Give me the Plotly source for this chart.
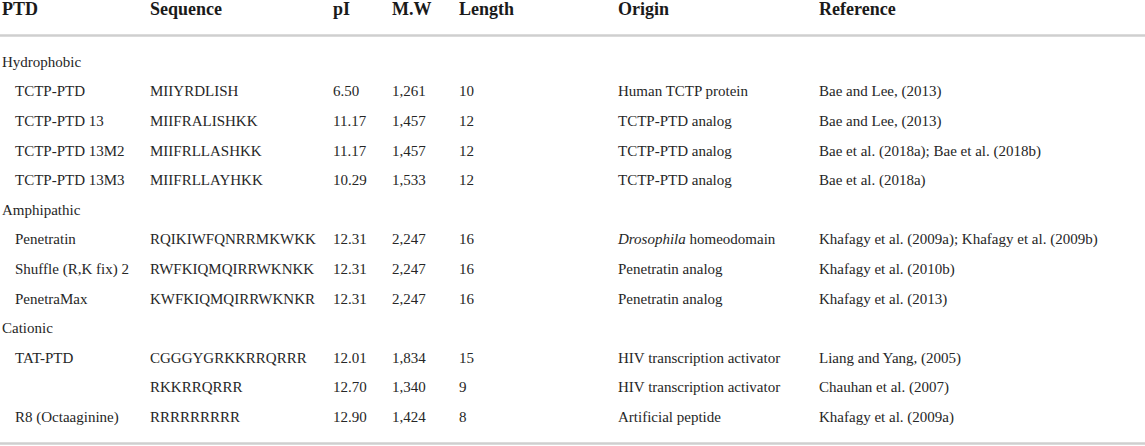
import plotly.graph_objects as go

headers = ["PTD", "Sequence", "pI", "M.W", "Length", "Origin", "Reference"]

groups = ["Hydrophobic", "Amphipathic", "Cationic"]
group_rows = [0, 5, 9]

ptd = ["TCTP-PTD", "TCTP-PTD 13", "TCTP-PTD 13M2", "TCTP-PTD 13M3",
       "Penetratin", "Shuffle (R,K fix) 2", "PenetraMax",
       "TAT-PTD", "", "R8 (Octaaginine)"]
sequence = ["MIIYRDLISH", "MIIFRALISHKK", "MIIFRLLASHKK", "MIIFRLLAYHKK",
            "RQIKIWFQNRRMKWKK", "RWFKIQMQIRRWKNKK", "KWFKIQMQIRRWKNKR",
            "CGGGYGRKKRRQRRR", "RKKRRQRRR", "RRRRRRRRR"]
pI = [6.50, 11.17, 11.17, 10.29, 12.31, 12.31, 12.31, 12.01, 12.70, 12.90]
mw = [1261, 1457, 1457, 1533, 2247, 2247, 2247, 1834, 1340, 1424]
length = [10, 12, 12, 12, 16, 16, 16, 15, 9, 8]
origin = ["Human TCTP protein", "TCTP-PTD analog", "TCTP-PTD analog", "TCTP-PTD analog",
          "<i>Drosophila</i> homeodomain", "Penetratin analog", "Penetratin analog",
          "HIV transcription activator", "HIV transcription activator", "Artificial peptide"]
reference = ["Bae and Lee, (2013)", "Bae and Lee, (2013)",
             "Bae et al. (2018a); Bae et al. (2018b)", "Bae et al. (2018a)",
             "Khafagy et al. (2009a); Khafagy et al. (2009b)", "Khafagy et al. (2010b)",
             "Khafagy et al. (2013)", "Liang and Yang, (2005)", "Chauhan et al. (2007)",
             "Khafagy et al. (2009a)"]
item_rows = [1, 2, 3, 4, 6, 7, 8, 10, 11, 12]

# layout (pixel positions)
W, H = 1145, 446
col_x = [2, 150, 333, 392, 459, 618, 819]
indent_x = 15
row0_px, row_h = 63, 29.6
header_px = 10

def px_to_row(p):
    return (p - row0_px) / row_h

body_font = dict(family="Liberation Serif, Times New Roman, serif", size=15, color="#262626")
head_font = dict(family="Liberation Serif, Times New Roman, serif", size=18, color="#1a1a1a")

fig = go.Figure()

# header
fig.add_trace(go.Scatter(
    x=col_x, y=[px_to_row(header_px)] * len(headers),
    text=["<b>%s</b>" % h for h in headers],
    mode="text", textposition="middle right", textfont=head_font,
    hoverinfo="skip", showlegend=False))

# group labels
fig.add_trace(go.Scatter(
    x=[col_x[0]] * len(groups), y=group_rows, text=groups,
    mode="text", textposition="middle right", textfont=body_font,
    hoverinfo="skip", showlegend=False))

columns = [
    (indent_x, ptd),
    (col_x[1], sequence),
    (col_x[2], ["%.2f" % v for v in pI]),
    (col_x[3], ["{:,}".format(v) for v in mw]),
    (col_x[4], [str(v) for v in length]),
    (col_x[5], origin),
    (col_x[6], reference),
]
for cx, vals in columns:
    fig.add_trace(go.Scatter(
        x=[cx] * len(vals), y=item_rows, text=vals,
        mode="text", textposition="middle right", textfont=body_font,
        hoverinfo="skip", showlegend=False))

# rules
for yp, w in [(35.5, 2.5), (443.5, 2.5)]:
    fig.add_shape(type="line", xref="x", yref="y", x0=0, x1=W,
                  y0=px_to_row(yp), y1=px_to_row(yp),
                  line=dict(color="#cfcfcf", width=w))

fig.update_layout(
    width=W, height=H,
    margin=dict(l=0, r=0, t=0, b=0),
    paper_bgcolor="white", plot_bgcolor="white",
    xaxis=dict(range=[0, W], visible=False, fixedrange=True),
    yaxis=dict(range=[px_to_row(H), px_to_row(0)], visible=False, fixedrange=True),
)

fig.write_html("out.html", config={"displayModeBar": False},
               post_script="document.body.style.margin='0';")
